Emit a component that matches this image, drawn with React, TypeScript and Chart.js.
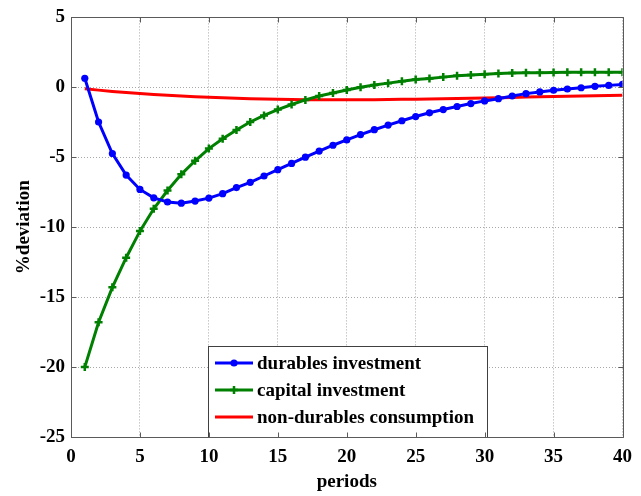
import React, { useEffect, useRef } from "react";
import { Chart, registerables } from "chart.js";

Chart.register(...registerables);

const periods = [1, 2, 3, 4, 5, 6, 7, 8, 9, 10, 11, 12, 13, 14, 15, 16, 17, 18, 19, 20, 21, 22, 23, 24, 25, 26, 27, 28, 29, 30, 31, 32, 33, 34, 35, 36, 37, 38, 39, 40];

const durables = [0.65, -2.48, -4.73, -6.27, -7.3, -7.9, -8.2, -8.28, -8.13, -7.92, -7.6, -7.17, -6.79, -6.34, -5.89, -5.44, -4.99, -4.56, -4.14, -3.76, -3.38, -3.03, -2.7, -2.39, -2.09, -1.82, -1.59, -1.37, -1.16, -0.97, -0.81, -0.62, -0.45, -0.33, -0.21, -0.12, -0.03, 0.07, 0.14, 0.21];

const capital = [-20, -16.8, -14.3, -12.18, -10.28, -8.68, -7.38, -6.22, -5.25, -4.38, -3.67, -3.05, -2.48, -2.01, -1.59, -1.23, -0.9, -0.62, -0.4, -0.19, 0.0, 0.16, 0.3, 0.43, 0.56, 0.64, 0.73, 0.82, 0.89, 0.94, 0.99, 1.02, 1.04, 1.05, 1.06, 1.07, 1.07, 1.07, 1.07, 1.07];

const nondurables = [-0.1, -0.2, -0.29, -0.37, -0.44, -0.51, -0.57, -0.62, -0.67, -0.71, -0.75, -0.78, -0.81, -0.84, -0.86, -0.87, -0.88, -0.89, -0.89, -0.89, -0.89, -0.88, -0.87, -0.86, -0.85, -0.83, -0.82, -0.8, -0.78, -0.76, -0.74, -0.72, -0.7, -0.68, -0.66, -0.64, -0.62, -0.6, -0.58, -0.57];

const seriesLabels = ["durables investment", "capital investment", "non-durables consumption"];

const FONT = "'Liberation Serif', 'Times New Roman', serif";

const boxPlugin = {
  id: "boxPlugin",
  afterDraw(chart: any) {
    const { ctx, chartArea: a, scales } = chart;
    ctx.save();
    ctx.strokeStyle = "#5a5a5a";
    ctx.lineWidth = 1;
    const L = Math.round(a.left) + 0.5;
    const R = Math.round(a.right) + 0.5;
    const T = Math.round(a.top) + 0.5;
    const B = Math.round(a.bottom) + 0.5;
    ctx.beginPath();
    ctx.rect(L, T, R - L, B - T);
    ctx.stroke();
    const tl = 5;
    ctx.beginPath();
    scales.x.ticks.forEach((t: any) => {
      const px = Math.round(scales.x.getPixelForValue(t.value)) + 0.5;
      ctx.moveTo(px, B);
      ctx.lineTo(px, B - tl);
      ctx.moveTo(px, T);
      ctx.lineTo(px, T + tl);
    });
    scales.y.ticks.forEach((t: any) => {
      const py = Math.round(scales.y.getPixelForValue(t.value)) + 0.5;
      ctx.moveTo(L, py);
      ctx.lineTo(L + tl, py);
      ctx.moveTo(R, py);
      ctx.lineTo(R - tl, py);
    });
    ctx.stroke();
    ctx.restore();
  },
};

const legendPlugin = {
  id: "customLegend",
  afterDatasetsDraw(chart: any) {
    const { ctx, chartArea: a } = chart;
    const left = 208.5;
    const right = 487.5;
    const top = 346.5;
    const bottom = Math.round(a.bottom) + 0.5;
    ctx.save();
    ctx.fillStyle = "#ffffff";
    ctx.fillRect(left, top, right - left, bottom - top);
    ctx.strokeStyle = "#404040";
    ctx.lineWidth = 1;
    ctx.strokeRect(left, top, right - left, bottom - top);
    const rows = [363, 390, 417];
    chart.data.datasets.forEach((ds: any, i: number) => {
      const y = rows[i];
      const x0 = 215;
      const x1 = 253;
      ctx.strokeStyle = ds.borderColor;
      ctx.lineWidth = 3;
      ctx.beginPath();
      ctx.moveTo(x0, y);
      ctx.lineTo(x1, y);
      ctx.stroke();
      const cx = (x0 + x1) / 2;
      if (ds.pointStyle === "circle" && ds.pointRadius > 0) {
        ctx.fillStyle = ds.pointBackgroundColor;
        ctx.beginPath();
        ctx.arc(cx, y, ds.pointRadius, 0, Math.PI * 2);
        ctx.fill();
      } else if (ds.pointStyle === "cross" && ds.pointRadius > 0) {
        ctx.lineWidth = ds.pointBorderWidth;
        ctx.beginPath();
        ctx.moveTo(cx - ds.pointRadius, y);
        ctx.lineTo(cx + ds.pointRadius, y);
        ctx.moveTo(cx, y - ds.pointRadius);
        ctx.lineTo(cx, y + ds.pointRadius);
        ctx.stroke();
      }
      ctx.fillStyle = "#000000";
      ctx.font = `bold 19px ${FONT}`;
      ctx.textBaseline = "middle";
      ctx.textAlign = "left";
      ctx.fillText(ds.label, 257, y + 1);
    });
    ctx.restore();
  },
};

export default function App() {
  const ref = useRef<HTMLCanvasElement | null>(null);

  useEffect(() => {
    document.body.style.margin = "0";
    if (!ref.current) return;
    const toPts = (vals: number[]) => vals.map((v, i) => ({ x: periods[i], y: v }));
    const chart = new Chart(ref.current, {
      type: "line",
      data: {
        datasets: [
          {
            label: seriesLabels[0],
            data: toPts(durables),
            borderColor: "#0000ff",
            backgroundColor: "#0000ff",
            pointBackgroundColor: "#0000ff",
            pointBorderColor: "#0000ff",
            borderWidth: 3,
            pointStyle: "circle",
            pointRadius: 3.6,
            pointBorderWidth: 0,
            tension: 0,
          },
          {
            label: seriesLabels[1],
            data: toPts(capital),
            borderColor: "#008000",
            backgroundColor: "#008000",
            pointBackgroundColor: "#008000",
            pointBorderColor: "#008000",
            borderWidth: 3,
            pointStyle: "cross",
            pointRadius: 4,
            pointBorderWidth: 2.5,
            tension: 0,
          },
          {
            label: seriesLabels[2],
            data: toPts(nondurables),
            borderColor: "#ff0000",
            backgroundColor: "#ff0000",
            borderWidth: 3,
            pointRadius: 0,
            pointStyle: "none",
            tension: 0,
          },
        ] as any,
      },
      options: {
        animation: false,
        responsive: true,
        maintainAspectRatio: false,
        layout: { padding: { top: 15, right: 16, left: 0, bottom: 0 } },
        plugins: {
          legend: { display: false },
          tooltip: { enabled: false },
        },
        scales: {
          x: {
            type: "linear",
            min: 0,
            max: 40,
            ticks: {
              stepSize: 5,
              color: "#000",
              padding: 9,
              font: { family: FONT, size: 19, weight: "bold" },
            },
            grid: {
              color: "#a8a8a8",
              lineWidth: 1,
              drawTicks: false,
            },
            border: { display: true, color: "#5a5a5a", dash: [1, 2] },
            title: {
              display: true,
              text: "periods",
              color: "#000",
              font: { family: FONT, size: 19, weight: "bold" },
              padding: { top: 0, bottom: 3 },
            },
            afterFit(scale: any) {
              scale.height = 59;
            },
          },
          y: {
            type: "linear",
            min: -25,
            max: 5,
            ticks: {
              stepSize: 5,
              color: "#000",
              padding: 6,
              font: { family: FONT, size: 19, weight: "bold" },
            },
            grid: {
              color: "#a8a8a8",
              lineWidth: 1,
              drawTicks: false,
            },
            border: { display: true, color: "#5a5a5a", dash: [1, 2] },
            title: {
              display: true,
              text: "%deviation",
              color: "#000",
              font: { family: FONT, size: 19, weight: "bold" },
              padding: { top: 13, bottom: 0 },
            },
            afterFit(scale: any) {
              scale.width = 71;
            },
          },
        },
      } as any,
      plugins: [legendPlugin, boxPlugin],
    });
    return () => chart.destroy();
  }, []);

  return (
    <div style={{ position: "absolute", left: 0, top: 0, width: 641, height: 496, background: "#fff" }}>
      <canvas ref={ref} />
    </div>
  );
}
